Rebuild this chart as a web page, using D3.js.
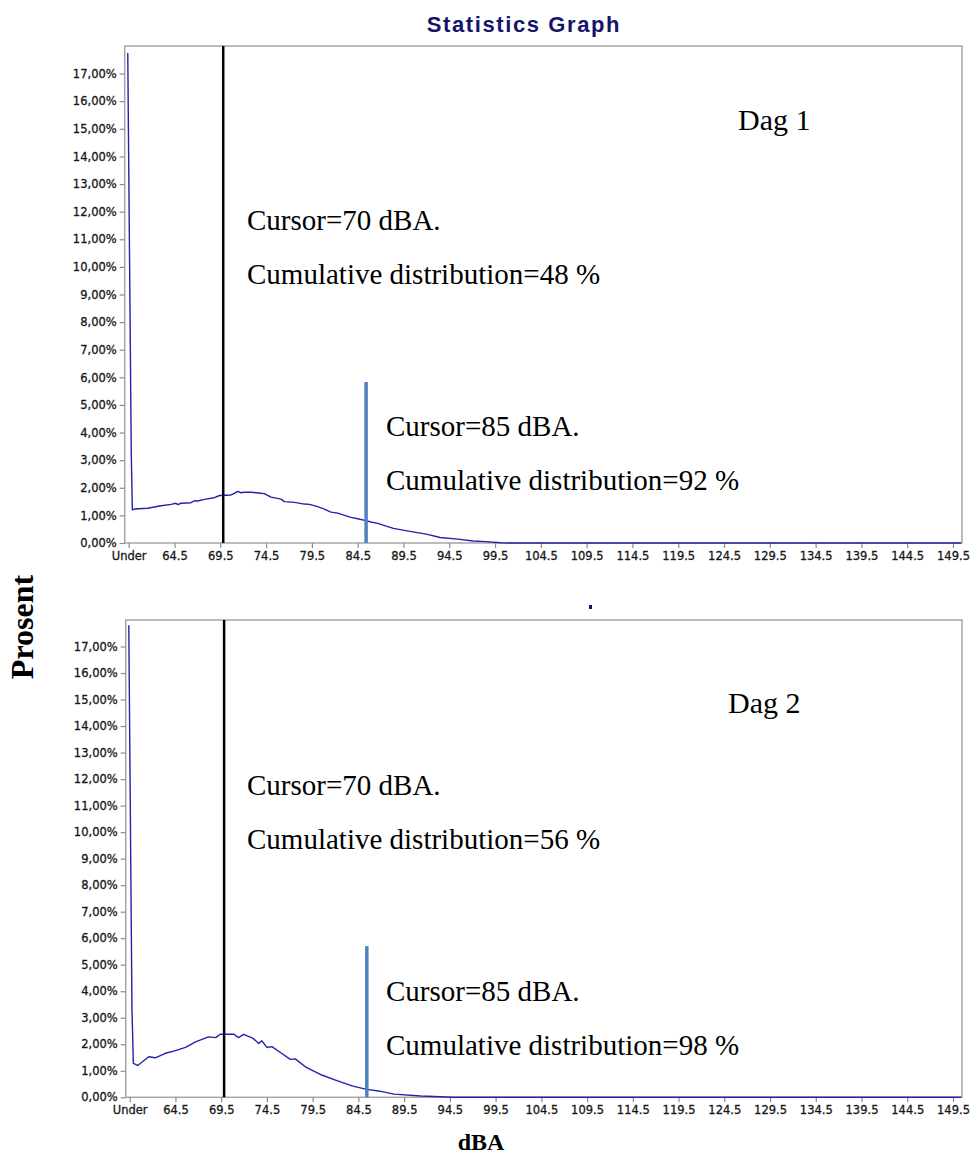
<!DOCTYPE html>
<html>
<head>
<meta charset="utf-8">
<script src="https://cdn.jsdelivr.net/npm/d3@7"></script>
<style>
  body { margin: 0; background: #fff; }
  svg { display: block; }
</style>
</head>
<body>
<div id="chart"></div>
<script>
// tick labels
const xTicks = [59.5, 64.5, 69.5, 74.5, 79.5, 84.5, 89.5, 94.5, 99.5, 104.5, 109.5, 114.5, 119.5, 124.5, 129.5, 134.5, 139.5, 144.5, 149.5];
const xTickLabels = ['Under', '64.5', '69.5', '74.5', '79.5', '84.5', '89.5', '94.5', '99.5', '104.5', '109.5', '114.5', '119.5', '124.5', '129.5', '134.5', '139.5', '144.5', '149.5'];
const yTicks = [0, 1, 2, 3, 4, 5, 6, 7, 8, 9, 10, 11, 12, 13, 14, 15, 16, 17];

// distribution, [dBA, percent]
const day1 = [
  [59.40, 17.75], [59.45, 15.70], [59.78, 3.25], [59.90, 1.20], [60.12, 1.23],
  [61.57, 1.26], [63.03, 1.35], [64.12, 1.40], [64.66, 1.44], [64.85, 1.39],
  [65.21, 1.44], [66.30, 1.46], [66.67, 1.53], [67.03, 1.52], [67.76, 1.58],
  [68.85, 1.64], [69.43, 1.72], [70.67, 1.74], [71.04, 1.80], [71.40, 1.87],
  [71.76, 1.82], [72.13, 1.84], [72.85, 1.84], [73.94, 1.80], [74.30, 1.79],
  [75.04, 1.66], [76.13, 1.59], [76.50, 1.50], [77.59, 1.47], [78.69, 1.41],
  [79.23, 1.40], [80.13, 1.32], [80.86, 1.23], [81.22, 1.17], [81.58, 1.12],
  [82.32, 1.08], [83.77, 0.93], [84.50, 0.88], [85.41, 0.81], [85.95, 0.76],
  [86.68, 0.71], [88.40, 0.53], [90.20, 0.42], [92.00, 0.32], [93.50, 0.20],
  [95.70, 0.13], [97.10, 0.07], [98.50, 0.05], [100.10, 0.01], [101.00, 0],
  [150.40, 0]
];
const day2 = [
  [59.40, 17.80], [59.45, 15.75], [59.75, 3.30], [59.90, 1.28], [60.37, 1.20],
  [61.58, 1.53], [62.30, 1.49], [63.40, 1.66], [64.50, 1.76], [65.60, 1.88],
  [66.70, 2.09], [68.10, 2.28], [68.90, 2.25], [69.40, 2.38], [70.90, 2.38],
  [71.40, 2.25], [71.95, 2.37], [73.00, 2.22], [73.60, 2.03], [73.95, 2.13],
  [74.50, 1.88], [75.04, 1.91], [76.10, 1.66], [77.05, 1.43], [77.60, 1.45],
  [78.70, 1.15], [80.50, 0.84], [82.00, 0.65], [83.80, 0.43], [85.40, 0.30],
  [86.70, 0.24], [88.40, 0.12], [91.30, 0.05], [94.90, 0], [150.40, 0]
];

// cursors: dBA position, blue marker height in percent
const cursorA = [69.82, 69.82];
const cursorB = [85.42, 85.42];
const cursorBHeight = [5.83, 5.70];

const dayLabels = ['Dag 1', 'Dag 2'];
const cursorAText = ['Cursor=70 dBA.', 'Cursor=70 dBA.'];
const cumAText = ['Cumulative distribution=48 %', 'Cumulative distribution=56 %'];
const cursorBText = ['Cursor=85 dBA.', 'Cursor=85 dBA.'];
const cumBText = ['Cumulative distribution=92 %', 'Cumulative distribution=98 %'];

const width = 971;
const height = 1156;

const svg = d3.select('#chart').append('svg')
  .attr('width', width)
  .attr('height', height);

// title
svg.append('text')
  .attr('x', 524)
  .attr('y', 32)
  .attr('text-anchor', 'middle')
  .attr('font-family', '"Liberation Sans", Arial, sans-serif')
  .attr('font-weight', 'bold')
  .attr('font-size', 22)
  .attr('letter-spacing', 1.6)
  .attr('fill', '#14146b')
  .text('Statistics Graph');

// stray mark between the panels
svg.append('rect')
  .attr('x', 589).attr('y', 605)
  .attr('width', 3).attr('height', 4)
  .attr('fill', '#14146b');

svg.append('text')
  .attr('transform', 'translate(33,627) rotate(-90)')
  .attr('text-anchor', 'middle')
  .attr('font-family', '"Liberation Serif", "Times New Roman", serif')
  .attr('font-weight', 'bold')
  .attr('font-size', 32)
  .text('Prosent');

svg.append('text')
  .attr('x', 481)
  .attr('y', 1150)
  .attr('text-anchor', 'middle')
  .attr('font-family', '"Liberation Serif", "Times New Roman", serif')
  .attr('font-weight', 'bold')
  .attr('font-size', 24)
  .text('dBA');

const panels = [
  { left: 124.7, right: 962, top: 46, bottom: 543, data: day1, dy: 0 },
  { left: 125.7, right: 962, top: 620, bottom: 1097.3, data: day2, dy: 565 }
];

const pct = d => d3.format('.2f')(d).replace('.', ',') + '%';
const serif = '"Liberation Serif", "Times New Roman", serif';

panels.forEach((p, i) => {
  const x = d3.scaleLinear().domain([59.5, 149.5]).range([p.left + 4, p.right - 9]);
  const y = d3.scaleLinear().domain([0, 18]).range([p.bottom, p.top]);
  const g = svg.append('g');

  // frame
  g.append('rect')
    .attr('x', p.left).attr('y', p.top)
    .attr('width', p.right - p.left).attr('height', p.bottom - p.top)
    .attr('fill', 'none')
    .attr('stroke', '#a6a6a6')
    .attr('stroke-width', 1.5);

  const yAxis = g.append('g')
    .attr('transform', `translate(${p.left},0)`)
    .call(d3.axisLeft(y).tickValues(yTicks).tickFormat(pct).tickSize(5).tickPadding(3));

  const xAxis = g.append('g')
    .attr('transform', `translate(0,${p.bottom})`)
    .call(d3.axisBottom(x).tickValues(xTicks).tickFormat((d, k) => xTickLabels[k]).tickSize(5).tickPadding(4));

  [yAxis, xAxis].forEach(a => {
    a.select('.domain').remove();
    a.selectAll('.tick line').attr('stroke', '#8c8c8c').attr('stroke-width', 1.2);
    a.selectAll('.tick text')
      .attr('font-family', '"DejaVu Sans", Verdana, sans-serif')
      .attr('font-size', 11.5)
      .attr('fill', '#111')
      .attr('stroke', '#222')
      .attr('stroke-width', 0.3);
  });

  // distribution line
  g.append('path')
    .datum(p.data)
    .attr('fill', 'none')
    .attr('stroke', '#2222aa')
    .attr('stroke-width', 1.4)
    .attr('stroke-linejoin', 'round')
    .attr('d', d3.line().x(d => x(d[0])).y(d => y(d[1])));

  // cursors
  g.append('line')
    .attr('x1', x(cursorA[i])).attr('x2', x(cursorA[i]))
    .attr('y1', p.top).attr('y2', p.bottom)
    .attr('stroke', '#000')
    .attr('stroke-width', 2.5);

  g.append('line')
    .attr('x1', x(cursorB[i])).attr('x2', x(cursorB[i]))
    .attr('y1', y(cursorBHeight[i])).attr('y2', p.bottom)
    .attr('stroke', '#4f81bd')
    .attr('stroke-width', 3.5);

  // annotations
  const ann = [
    [dayLabels[i], i === 0 ? 738 : 728, i === 0 ? 129.5 : 712.5, 30],
    [cursorAText[i], 247, 230 + p.dy, 29],
    [cumAText[i], 247, 283.5 + p.dy, 29],
    [cursorBText[i], 386, 436 + p.dy, 29],
    [cumBText[i], 386, 490 + p.dy, 29]
  ];
  g.selectAll('.ann')
    .data(ann)
    .enter().append('text')
    .attr('class', 'ann')
    .attr('x', d => d[1])
    .attr('y', d => d[2])
    .attr('font-family', serif)
    .attr('font-size', d => d[3])
    .attr('fill', '#000')
    .text(d => d[0]);
});
</script>
</body>
</html>
